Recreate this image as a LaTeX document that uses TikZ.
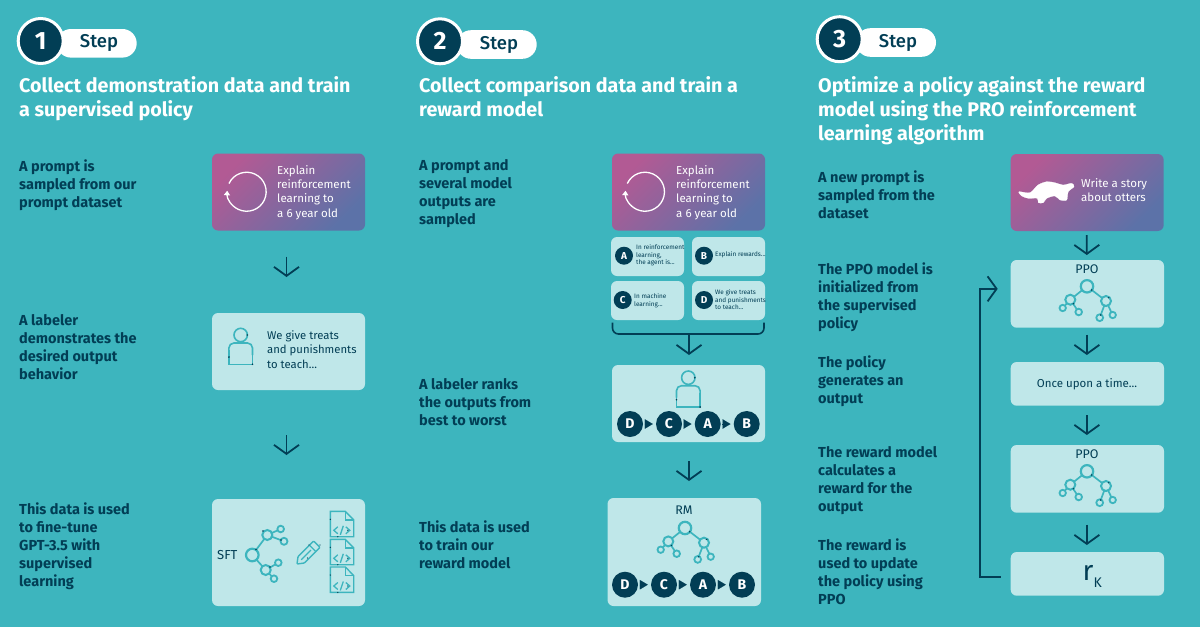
\documentclass[tikz,border=0pt]{standalone}
\usepackage{fontspec}
\setmainfont{Fira Sans}
\newfontfamily\medf{Fira Sans Medium}
\usetikzlibrary{arrows.meta}
\definecolor{bg}{HTML}{3DB5BE}
\definecolor{lite}{HTML}{BFE7E9}
\definecolor{ink}{HTML}{023E55}
\definecolor{pink}{HTML}{B25A94}
\definecolor{blu}{HTML}{5C72A8}
\tikzset{
  lbox/.style={fill=lite,rounded corners=6pt,inner sep=0pt,outer sep=0pt,anchor=north west},
  gbox/.style={top color=pink,bottom color=blu,shading angle=45,rounded corners=6pt,inner sep=0pt,outer sep=0pt,anchor=north west},
  mbox/.style={lbox,minimum width=73pt,minimum height=39pt},
  pbox/.style={minimum width=153pt,minimum height=77pt},
  head/.style={anchor=north west,inner sep=0pt,align=left,text=white,font=\fontsize{19.7}{24}\selectfont\bfseries},
  side/.style={anchor=north west,inner sep=0pt,align=left,text=ink,font=\fontsize{14.5}{18}\selectfont\bfseries},
  wtxt/.style={anchor=north west,inner sep=0pt,align=left,text=white,font=\fontsize{11.5}{14.4}\selectfont},
  dtxt/.style={anchor=north west,inner sep=0pt,align=left,text=ink,font=\fontsize{11.3}{14.4}\selectfont},
  tiny/.style={anchor=north west,inner sep=0pt,align=left,text=ink,font=\fontsize{6.4}{7.5}\selectfont},
  lab/.style={inner sep=0pt,text=ink,font=\fontsize{12.5}{14}\selectfont},
  ball/.style={circle,fill=ink,text=white,minimum size=26pt,inner sep=0pt,font=\fontsize{14}{14}\selectfont\bfseries},
  mball/.style={circle,fill=ink,text=white,minimum size=18pt,inner sep=0pt,font=\fontsize{10}{10}\selectfont\bfseries},
  badge/.style={circle,fill=ink,draw=white,line width=3pt,minimum size=45pt,inner sep=0pt,text=white,font=\fontsize{25}{25}\selectfont\bfseries},
  pill/.style={fill=white,rounded corners=14.3pt,minimum width=80pt,minimum height=28.6pt,inner sep=0pt},
  steptxt/.style={inner sep=0pt,text=ink,font=\fontsize{18.5}{18.5}\selectfont\medf},
  flow/.style={draw=ink,line width=1.8pt,-{Straight Barb[length=9pt,width=25pt,line width=1.8pt]}},
  rank/.style={draw=ink,line width=.1pt,-{Triangle[length=8pt,width=9.5pt]},shorten <=1.5pt,shorten >=3pt},
  person/.pic={
    \draw[bg,line width=1.6pt] (0,0) circle (6.7);
    \draw[bg,line width=1.6pt,rounded corners=5pt] (-11.8,20) -- (-11.8,8) -- (11.8,8) -- (11.8,20);
    \draw[bg,line width=1.6pt] (11.8,15) -- (11.8,29.3) -- (-11.8,29.3) -- (-11.8,15);
    \fill[ink] (6.5,0) circle (.9) (-11.8,22) circle (.9) (11.8,29.3) circle (.9);
  },
  tree/.pic={
    \draw[bg,line width=1.7pt] (0,0) -- (-16.7,13.4) (-16.7,13.4) -- (-24.3,21.7) (-16.7,13.4) -- (-8.3,25.7)
      (0,0) -- (19,14.7) (19,14.7) -- (12.7,31.4) (19,14.7) -- (25.7,28.7);
    \draw[bg,line width=2.2pt,fill=lite] (0,0) circle (6.2);
    \draw[bg,line width=2pt,fill=lite] (-16.7,13.4) circle (5) (19,14.7) circle (5);
    \draw[bg,line width=1.8pt,fill=lite] (-24.3,21.7) circle (3.2) (-8.3,25.7) circle (3.3) (12.7,31.4) circle (3.4) (25.7,28.7) circle (3.2);
    \fill[ink] (4.7,3.7) circle (.8) (-13.7,17.4) circle (.8) (21.7,11.4) circle (.8) (13.7,28.7) circle (.8);
  },
  refresh/.pic={
    \draw[white,line width=1.3pt,-{Triangle[length=4.5pt,width=6pt]}] (-17.7,-8.2) arc[start angle=205,end angle=543,radius=19.5];
  },
  docpic/.pic={
    \draw[bg,line width=1.4pt,line join=miter] (0,0) -- (15,0) -- (23.4,8.5) -- (23.4,25.4) -- (0,25.4) -- cycle;
    \draw[bg,line width=1.4pt] (15,0) -- (15,8.5) -- (23.4,8.5);
    \draw[bg,line width=1.3pt] (7.5,15.5) -- (3.5,19) -- (7.5,22.5) (15.5,15.5) -- (19.5,19) -- (15.5,22.5) (13,14.5) -- (10,23.5);
    \fill[ink] (0,8) circle (.7) (17.5,19) circle (.7) (7.5,25.4) circle (.7);
  },
}
\begin{document}
\begin{tikzpicture}[x=1pt,y=-1pt]
\fill[bg] (0,0) rectangle (1200,627);
\useasboundingbox (0,0) rectangle (1200,627);
% ---------- badges
\foreach \n/\cx/\cy/\px/\py/\sx/\sy/\t in {a/40.7/41/96.7/43.3/99/43/1,b/440/41.3/496.7/44.5/499/44.5/2,c/839.7/39.2/896/42.5/898/42.7/3}{
  \node[pill] (pill\n) at (\px,\py) {};
  \node[steptxt] (step\n) at (\sx,\sy) {Step};
  \node[badge] (badge\n) at (\cx,\cy) {\t};
}
% ---------- headings
\node[head] (h1) at (19,76) {Collect demonstration data and train\\a supervised policy};
\node[head] (h2) at (419,76) {Collect comparison data and train a\\reward model};
\node[head] (h3) at (818,76) {Optimize a policy against the reward\\model using the PRO reinforcement\\learning algorithm};
% ---------- side texts
\node[side] (s11) at (19,159.5) {A prompt is\\sampled from our\\prompt dataset};
\node[side] (s12) at (19,314.5) {A labeler\\demonstrates the\\desired output\\behavior};
\node[side] (s13) at (19,502.5) {This data is used\\to fine-tune\\GPT-3.5 with\\supervised\\learning};
\node[side] (s21) at (419,159.5) {A prompt and\\several model\\outputs are\\sampled};
\node[side] (s22) at (419,378.5) {A labeler ranks\\the outputs from\\best to worst};
\node[side] (s23) at (419,520.5) {This data is used\\to train our\\reward model};
\node[side] (s31) at (818,170.5) {A new prompt is\\sampled from the\\dataset};
\node[side] (s32) at (818,262.5) {The PPO model is\\initialized from\\the supervised\\policy};
\node[side] (s33) at (818,355.5) {The policy\\generates an\\output};
\node[side] (s34) at (818,446.5) {The reward model\\calculates a\\reward for the\\output};
\node[side] (s35) at (818,538.5) {The reward is\\used to update\\the policy using\\PPO};
% ---------- column 1
\node[gbox,pbox] (p11) at (212,153.5) {};
\node[lbox,pbox] (p12) at (212,313) {};
\node[lbox,minimum width=153pt,minimum height=107pt] (p13) at (212,499) {};
\pic at (246.7,191.7) {refresh};
\node[wtxt] (t11) at (277,165) {Explain\\reinforcement\\learning to\\a 6 year old};
\pic at (240.7,335) {person};
\node[dtxt] (t12) at (267,330.5) {We give treats\\and punishments\\to teach...};
\node[lab,anchor=west,font=\fontsize{13}{14}\selectfont] (sft) at (217,555) {SFT};
% sft graph
\draw[bg,line width=1.7pt] (252.3,555) -- (267.3,535) -- (280.7,529) (267.3,535) -- (284,541.3)
  (252.3,555) -- (265.7,570) -- (278.3,562.7) (265.7,570) -- (274,578.7);
\draw[bg,line width=2.2pt,fill=lite] (252.3,555) circle (6.3);
\draw[bg,line width=2pt,fill=lite] (267.3,535) circle (5) (265.7,570) circle (5);
\draw[bg,line width=1.8pt,fill=lite] (280.7,529) circle (3.3) (284,541.3) circle (3.5) (278.3,562.7) circle (3.3) (274,578.7) circle (3.3);
\fill[ink] (256,549.5) circle (.8) (263,531) circle (.8) (281,540) circle (.8) (270,567) circle (.8);
% pencil
\draw[bg,line width=1.4pt,line join=round,rounded corners=.8pt] (297,564) -- (298,556.6) -- (313.6,541) -- (320,547.4) -- (304.4,563) -- cycle;
\draw[bg,line width=1.2pt] (309.4,545.2) -- (315.8,551.6) (301.2,559.8) -- (311,550);
\fill[ink] (309,545) circle (.7) (320,545) circle (.7) (307.5,558) circle (.7);
% docs
\pic at (330.3,511.3) {docpic};
\pic at (330.3,539.3) {docpic};
\pic at (330.3,567) {docpic};
\draw[flow,shorten <=26pt,shorten >=36pt] ([xshift=-2pt]p11.south) -- ([xshift=-2pt]p12.north);
\draw[flow,shorten <=45pt,shorten >=44pt] ([xshift=-2pt]p12.south) -- ([xshift=-2pt]p13.north);
% ---------- column 2
\node[gbox,pbox] (p21) at (612,153.5) {};
\pic at (645,191.7) {refresh};
\node[wtxt] (t21) at (676,165) {Explain\\reinforcement\\learning to\\a 6 year old};
\node[mbox] (ma) at (611,237) {};
\node[mbox] (mb) at (692,237) {};
\node[mbox] (mc) at (611,281) {};
\node[mbox] (md) at (692,281) {};
\node[mball] (ca) at (624,255.7) {A};
\node[mball] (cb) at (704,255.7) {B};
\node[mball] (cc) at (622.7,300) {C};
\node[mball] (cd) at (704,300) {D};
\node[tiny] (ta) at (636,244.5) {In reinforcement\\learning,\\the agent is...};
\node[tiny] (tb) at (715,251.5) {Explain rewards...};
\node[tiny] (tc) at (634,293.5) {In machine\\learning...};
\node[tiny] (td) at (715,289.5) {We give treats\\and punishments\\to teach...};
\node[lbox,pbox] (p22) at (612,365) {};
\pic at (688.3,377.7) {person};
\foreach \n/\x/\t in {r1/630/D,r2/669/C,r3/707.7/A,r4/746.7/B}{\node[ball] (\n) at (\x,424) {\t};}
\draw[rank] (r1) -- (r2); \draw[rank] (r2) -- (r3); \draw[rank] (r3) -- (r4);
\node[lbox,minimum width=153.5pt,minimum height=108pt] (p23) at (607.5,498) {};
\node[lab] (rm) at (684,510) {RM};
\pic at (685,528) {tree};
\foreach \n/\x/\t in {q1/625/D,q2/664/C,q3/703/A,q4/742/B}{\node[ball] (\n) at (\x,584.7) {\t};}
\draw[rank] (q1) -- (q2); \draw[rank] (q2) -- (q3); \draw[rank] (q3) -- (q4);
% bracket
\coordinate (bl) at (612.5,322.7);
\coordinate (br) at (764,322.7);
\coordinate (bm) at (689,334);
\draw[ink,line width=1.6pt,rounded corners=6pt] (bl) |- (bm) -| (br);
\draw[flow,shorten >=10pt] (bm) -- (bm |- p22.north);
\draw[flow,shorten <=19pt,shorten >=17pt] (bm |- p22.south) -- (bm |- p23.north);
% ---------- column 3
\node[gbox,pbox] (p31) at (1010.7,154) {};
\draw[white,fill=white,line width=.2pt] plot[smooth cycle,tension=.5] coordinates {(1019,191.7)(1030,192.7)(1038,185)(1046.7,181.7)(1055,182.7)(1063,185)(1071.7,183.3)(1074,186.7)(1068.3,191.7)(1066.7,200)(1060,200)(1055,196)(1046.7,198.3)(1043.3,202.7)(1038.3,202.7)(1037.3,198.3)(1028.3,198.3)(1021.7,196)};
\node[wtxt] (t31) at (1081,178) {Write a story\\about otters};
\node[lbox,minimum width=153.3pt,minimum height=67.7pt] (p32) at (1010.7,260) {};
\node[lab] (ppoa) at (1087,269.5) {PPO};
\pic at (1087,286.3) {tree};
\node[lbox,minimum width=153.3pt,minimum height=43.7pt] (p33) at (1010.7,362) {};
\node[lab,font=\fontsize{11.5}{14}\selectfont] (once) at (1087,384.5) {Once upon a time...};
\node[lbox,minimum width=153.3pt,minimum height=67.7pt] (p34) at (1010.7,445) {};
\node[lab] (ppob) at (1087,454.5) {PPO};
\pic at (1087,471.3) {tree};
\node[lbox,minimum width=153.3pt,minimum height=43.7pt] (p35) at (1010.7,552) {};
\node[inner sep=0pt,text=ink,anchor=base west] (rk) at (1082.5,580) {\fontsize{28}{28}\selectfont r\raisebox{-7pt}{\fontsize{14}{14}\selectfont K}};
\draw[flow,shorten <=4pt,shorten >=5pt] ([xshift=-.5pt]p31.south) -- ([xshift=-.5pt]p32.north);
\draw[flow,shorten <=7pt,shorten >=7pt] ([xshift=-.5pt]p32.south) -- ([xshift=-.5pt]p33.north);
\draw[flow,shorten <=9.5pt,shorten >=10pt] ([xshift=-.5pt]p33.south) -- ([xshift=-.5pt]p34.north);
\draw[flow,shorten <=12pt,shorten >=7pt] ([xshift=-.5pt]p34.south) -- ([xshift=-.5pt]p35.north);
\coordinate (fb) at (980,430);
\draw[flow] ([xshift=-10pt,yshift=-3.2pt]p35.west) -| (fb) |- ([xshift=-13pt,yshift=5pt]p32.west);
\end{tikzpicture}
\end{document}
